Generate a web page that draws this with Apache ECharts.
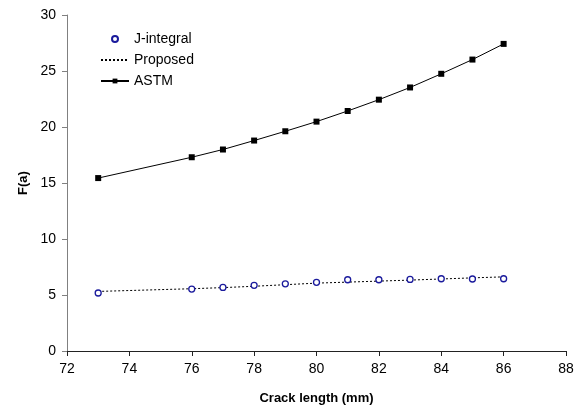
<!DOCTYPE html>
<html>
<head>
<meta charset="utf-8">
<script src="https://cdn.jsdelivr.net/npm/echarts@6/dist/echarts.min.js"></script>
<style>
    html, body { margin: 0; padding: 0; background: #fff; }
    #chart { width: 583px; height: 410px; }
</style>
</head>
<body>
<div id="chart"></div>
<script>
    // crack length (mm) and F(a) values
    const crackLength = [73, 76, 77, 78, 79, 80, 81, 82, 83, 84, 85, 86];
    const jIntegral = [5.18, 5.53, 5.68, 5.86, 6.0, 6.13, 6.36, 6.36, 6.39, 6.45, 6.43, 6.45];
    const proposed = [5.32, 5.56, 5.66, 5.78, 5.92, 6.06, 6.15, 6.24, 6.33, 6.43, 6.53, 6.62];
    const astm = [15.44, 17.30, 17.99, 18.79, 19.62, 20.48, 21.43, 22.44, 23.53, 24.75, 26.02, 27.42];
    const xTicks = [72, 74, 76, 78, 80, 82, 84, 86, 88];
    const yTicks = [0, 5, 10, 15, 20, 25, 30];

    const pairs = (ys) => crackLength.map((x, i) => [x, ys[i]]);
    const font = 'Liberation Sans, Arial, sans-serif';

    let option = {
        animation: false,
        legend: {
            orient: 'vertical',
            left: 95,
            top: 27,
            itemWidth: 28,
            itemHeight: 6,
            itemGap: 7,
            textStyle: { fontFamily: font, fontSize: 14, color: '#000' },
            data: [
                'J-integral',
                { name: 'Proposed', itemStyle: { opacity: 0 } },
                'ASTM'
            ]
        },
        grid: {
            left: 67,
            right: 17,
            top: 15,
            bottom: 57.5
        },
        xAxis: {
            type: 'value',
            min: xTicks[0],
            max: xTicks[xTicks.length - 1],
            interval: xTicks[1] - xTicks[0],
            name: 'Crack length (mm)',
            nameLocation: 'middle',
            nameGap: 41,
            nameTextStyle: { fontFamily: font, fontSize: 13, fontWeight: 'bold', color: '#000' },
            axisLine: { onZero: false, lineStyle: { color: '#222', width: 1 } },
            axisTick: { inside: false, length: 5, lineStyle: { color: '#222' } },
            axisLabel: { fontFamily: font, fontSize: 14, color: '#000', margin: 11 },
            splitLine: { show: false }
        },
        yAxis: {
            type: 'value',
            min: yTicks[0],
            max: yTicks[yTicks.length - 1],
            interval: yTicks[1] - yTicks[0],
            name: 'F(a)',
            nameLocation: 'middle',
            nameGap: 37,
            nameTextStyle: { fontFamily: font, fontSize: 13, fontWeight: 'bold', color: '#000' },
            axisLine: { show: true, lineStyle: { color: '#808080', width: 1 } },
            axisTick: { show: true, length: 5, lineStyle: { color: '#808080' } },
            axisLabel: { fontFamily: font, fontSize: 14, color: '#000', margin: 11 },
            splitLine: { show: false }
        },
        series: [
            {
                name: 'J-integral',
                type: 'scatter',
                symbol: 'circle',
                symbolSize: 6,
                itemStyle: { color: '#fff', borderColor: '#1a1a9c', borderWidth: 1.3, opacity: 1 },
                z: 4,
                data: pairs(jIntegral)
            },
            {
                name: 'Proposed',
                type: 'line',
                showSymbol: false,
                symbol: 'none',
                lineStyle: { color: '#000', width: 1, type: [2, 2] },
                itemStyle: { color: '#000' },
                z: 3,
                data: pairs(proposed)
            },
            {
                name: 'ASTM',
                type: 'line',
                symbol: 'rect',
                symbolSize: 6,
                lineStyle: { color: '#000', width: 1 },
                itemStyle: { color: '#000' },
                z: 3,
                data: pairs(astm)
            }
        ]
    };

    let myChart = echarts.init(document.getElementById('chart'));
    myChart.setOption(option);
</script>
</body>
</html>
